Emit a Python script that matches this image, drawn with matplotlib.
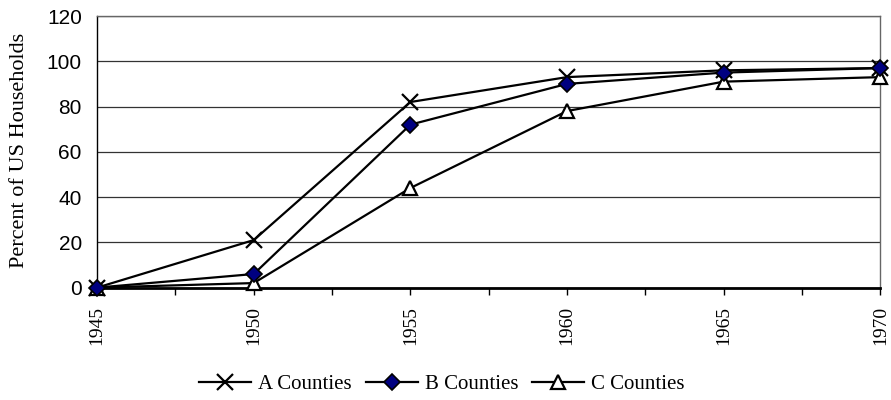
import matplotlib.pyplot as plt

years = [1945, 1950, 1955, 1960, 1965, 1970]
a_counties = [0, 21, 82, 93, 96, 97]
b_counties = [0, 6, 72, 90, 95, 97]
c_counties = [0, 2, 44, 78, 91, 93]

fig = plt.figure(figsize=(8.91, 4.0), dpi=100)
ax = fig.add_axes([0.109, 0.281, 0.879, 0.679])

ax.plot(years, a_counties, color='black', lw=1.6, marker='x', ms=12, mew=1.6,
        label='A Counties', zorder=3)
ax.plot(years, b_counties, color='black', lw=1.6, marker='D', ms=8,
        mfc='#000080', mec='black', mew=1.2, label='B Counties', zorder=4)
ax.plot(years, c_counties, color='black', lw=1.6, marker='^', ms=10,
        mfc='white', mec='black', mew=1.6, label='C Counties', zorder=3)

ax.set_xlim(1945, 1970)
ax.set_ylim(0, 120)
ax.set_yticks(range(0, 121, 20))
ax.set_xticks(years)
ax.set_xticks([1947.5, 1952.5, 1957.5, 1962.5, 1967.5], minor=True)
ax.grid(axis='y', color='#333333', lw=0.9)
ax.set_axisbelow(True)

for side in ['top', 'right']:
    ax.spines[side].set_color('#666666')
    ax.spines[side].set_linewidth(1.0)
ax.spines['left'].set_color('black')
ax.spines['left'].set_linewidth(1.0)
ax.spines['bottom'].set_linewidth(2.0)

ax.tick_params(axis='y', length=0, pad=11, labelsize=15)
ax.tick_params(axis='x', which='both', direction='out', length=5, width=1, pad=8)
for lab in ax.get_yticklabels():
    lab.set_family('Liberation Sans')
ax.set_xticklabels([str(y) for y in years], rotation=90, fontsize=14,
                   family='Liberation Serif')
fig.text(20 / 891, 0.625, 'Percent of US Households', rotation=90,
         ha='center', va='center', fontsize=16, family='Liberation Serif')

handles, labels = ax.get_legend_handles_labels()
fig.legend(handles, labels, loc='center', bbox_to_anchor=(442 / 891, 0.04),
           ncol=3, frameon=False, prop={'family': 'Liberation Serif', 'size': 15},
           handlelength=2.5, handletextpad=0.35, columnspacing=0.65,
           borderpad=0, borderaxespad=0)

for ln in ax.get_lines():
    ln.set_clip_on(False)

fig.savefig('out.png', dpi=100)
